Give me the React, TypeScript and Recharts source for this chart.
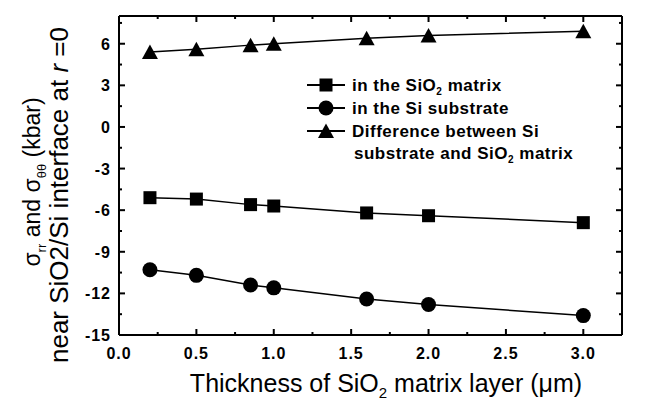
import React from "react";
import { LineChart, Line, XAxis, YAxis, Legend } from "recharts";

// SiO2 matrix thickness (um) and stresses at r = 0 (kbar)
const thickness = [0.2, 0.5, 0.85, 1.0, 1.6, 2.0, 3.0];
const sio2Matrix = [-5.1, -5.2, -5.6, -5.7, -6.2, -6.4, -6.9];
const siSubstrate = [-10.3, -10.7, -11.4, -11.6, -12.4, -12.8, -13.6];
const difference = [5.4, 5.6, 5.9, 6.0, 6.4, 6.6, 6.9];

const xTicks = [0, 0.25, 0.5, 0.75, 1.0, 1.25, 1.5, 1.75, 2.0, 2.25, 2.5, 2.75, 3.0];
const yTicks = [-15, -13.5, -12, -10.5, -9, -7.5, -6, -4.5, -3, -1.5, 0, 1.5, 3, 4.5, 6, 7.5];

const data = thickness.map((t, i) => ({
  t,
  matrix: sio2Matrix[i],
  substrate: siSubstrate[i],
  diff: difference[i],
}));

const FONT = "'Liberation Sans', Arial, sans-serif";

const isMultiple = (v: number, step: number) =>
  Math.abs(v / step - Math.round(v / step)) < 1e-6;

const BottomTick = (props: any) => {
  const { x, y, payload } = props;
  const major = isMultiple(payload.value, 0.5);
  return (
    <g>
      <line x1={x} x2={x} y1={y} y2={y - (major ? 6 : 3)} stroke="#000" strokeWidth={2} />
      {major && (
        <text x={x} y={y + 24} textAnchor="middle" fontSize={16} fontWeight="bold" fontFamily={FONT} letterSpacing={1}>
          {payload.value.toFixed(1)}
        </text>
      )}
    </g>
  );
};

const TopTick = (props: any) => {
  const { x, y, payload } = props;
  const major = isMultiple(payload.value, 0.5);
  return <line x1={x} x2={x} y1={y} y2={y + (major ? 6 : 3)} stroke="#000" strokeWidth={2} />;
};

const LeftTick = (props: any) => {
  const { x, y, payload } = props;
  const major = isMultiple(payload.value, 3);
  return (
    <g>
      <line x1={x} x2={x + (major ? 6 : 3)} y1={y} y2={y} stroke="#000" strokeWidth={2} />
      {major && (
        <text x={x - 8} y={y + 6} textAnchor="end" fontSize={16} fontWeight="bold" fontFamily={FONT} letterSpacing={1}>
          {payload.value}
        </text>
      )}
    </g>
  );
};

const RightTick = (props: any) => {
  const { x, y, payload } = props;
  const major = isMultiple(payload.value, 3);
  return <line x1={x} x2={x - (major ? 6 : 3)} y1={y} y2={y} stroke="#000" strokeWidth={2} />;
};

const Square = ({ cx, cy }: any) => <rect x={cx - 6.5} y={cy - 6.5} width={13} height={13} fill="#000" />;
const Circle = ({ cx, cy }: any) => <circle cx={cx} cy={cy} r={7.5} fill="#000" />;
const Triangle = ({ cx, cy }: any) => (
  <polygon points={`${cx},${cy - 7.5} ${cx - 8},${cy + 7} ${cx + 8},${cy + 7}`} fill="#000" />
);

const YTitle = () => (
  <g fontFamily={FONT} fill="#000">
    <text transform="translate(40,182) rotate(-90)" textAnchor="middle" fontSize={23}>
      σ<tspan fontSize={13} dy={6}>rr</tspan>
      <tspan dy={-6}> and σ</tspan>
      <tspan fontSize={13} dy={6}>θθ</tspan>
      <tspan dy={-6}> (kbar)</tspan>
    </text>
    <text transform="translate(68,195) rotate(-90)" textAnchor="middle" fontSize={26}>
      near SiO2/Si interface at <tspan fontStyle="italic">r</tspan> =0
    </text>
  </g>
);

const XTitle = () => (
  <text x={386} y={392} textAnchor="middle" fontSize={25} fontFamily={FONT} fill="#000">
    Thickness of SiO<tspan fontSize={15} dy={6}>2</tspan>
    <tspan dy={-6}> matrix layer (μm)</tspan>
  </text>
);

const LegendSymbol = ({ y, kind }: { y: number; kind: string }) => (
  <g>
    <line x1={2} x2={40} y1={y} y2={y} stroke="#000" strokeWidth={2} />
    {kind === "square" && <Square cx={21} cy={y} />}
    {kind === "circle" && <Circle cx={21} cy={y} />}
    {kind === "triangle" && <Triangle cx={21} cy={y} />}
  </g>
);

const LegendBox = () => (
  <svg width={290} height={100} fontFamily={FONT} fontWeight="bold" fontSize={17} letterSpacing={0.5}>
    <LegendSymbol y={13} kind="square" />
    <text x={47} y={19}>
      in the SiO<tspan fontSize={10} dy={4}>2</tspan>
      <tspan dy={-4}> matrix</tspan>
    </text>
    <LegendSymbol y={36} kind="circle" />
    <text x={47} y={42}>in the Si substrate</text>
    <LegendSymbol y={59} kind="triangle" />
    <text x={47} y={65}>Difference between Si</text>
    <text x={49} y={87}>
      substrate and SiO<tspan fontSize={10} dy={4}>2</tspan>
      <tspan dy={-4}> matrix</tspan>
    </text>
  </svg>
);

export default function App() {
  return (
    <div style={{ position: "absolute", left: 0, top: 0, width: 647, height: 405 }}>
      <LineChart width={647} height={405} data={data} margin={{ top: 15, right: 24, bottom: 40, left: 0 }}>
        <XAxis
          dataKey="t"
          type="number"
          domain={[0, 3.25]}
          allowDataOverflow
          ticks={xTicks}
          interval={0}
          height={30}
          tickSize={0}
          tickMargin={0}
          tickLine={false}
          tick={<BottomTick />}
          axisLine={{ stroke: "#000", strokeWidth: 2 }}
          label={<XTitle />}
        />
        <XAxis
          xAxisId="top"
          dataKey="t"
          orientation="top"
          type="number"
          domain={[0, 3.25]}
          allowDataOverflow
          ticks={xTicks}
          interval={0}
          height={1}
          tickSize={0}
          tickMargin={0}
          tickLine={false}
          tick={<TopTick />}
          axisLine={{ stroke: "#000", strokeWidth: 2 }}
        />
        <YAxis
          type="number"
          domain={[-15, 8]}
          allowDataOverflow
          ticks={yTicks}
          interval={0}
          width={119}
          tickSize={0}
          tickMargin={0}
          tickLine={false}
          tick={<LeftTick />}
          axisLine={{ stroke: "#000", strokeWidth: 2 }}
          label={<YTitle />}
        />
        <YAxis
          yAxisId="right"
          orientation="right"
          type="number"
          domain={[-15, 8]}
          allowDataOverflow
          ticks={yTicks}
          interval={0}
          width={1}
          tickSize={0}
          tickMargin={0}
          tickLine={false}
          tick={<RightTick />}
          axisLine={{ stroke: "#000", strokeWidth: 2 }}
        />
        <Legend
          layout="vertical"
          align="center"
          verticalAlign="middle"
          content={<LegendBox />}
          wrapperStyle={{ position: "absolute", left: 305, top: 72, width: 290, height: 100 }}
        />
        <Line
          type="linear"
          dataKey="matrix"
          name="in the SiO2 matrix"
          stroke="#000"
          strokeWidth={1.5}
          dot={(p: any) => <Square key={`s${p.index}`} cx={p.cx} cy={p.cy} />}
          isAnimationActive={false}
        />
        <Line
          type="linear"
          dataKey="substrate"
          name="in the Si substrate"
          stroke="#000"
          strokeWidth={1.5}
          dot={(p: any) => <Circle key={`c${p.index}`} cx={p.cx} cy={p.cy} />}
          isAnimationActive={false}
        />
        <Line
          type="linear"
          xAxisId="top"
          yAxisId="right"
          dataKey="diff"
          name="Difference between Si substrate and SiO2 matrix"
          stroke="#000"
          strokeWidth={1.5}
          dot={(p: any) => <Triangle key={`t${p.index}`} cx={p.cx} cy={p.cy} />}
          isAnimationActive={false}
        />
      </LineChart>
    </div>
  );
}
